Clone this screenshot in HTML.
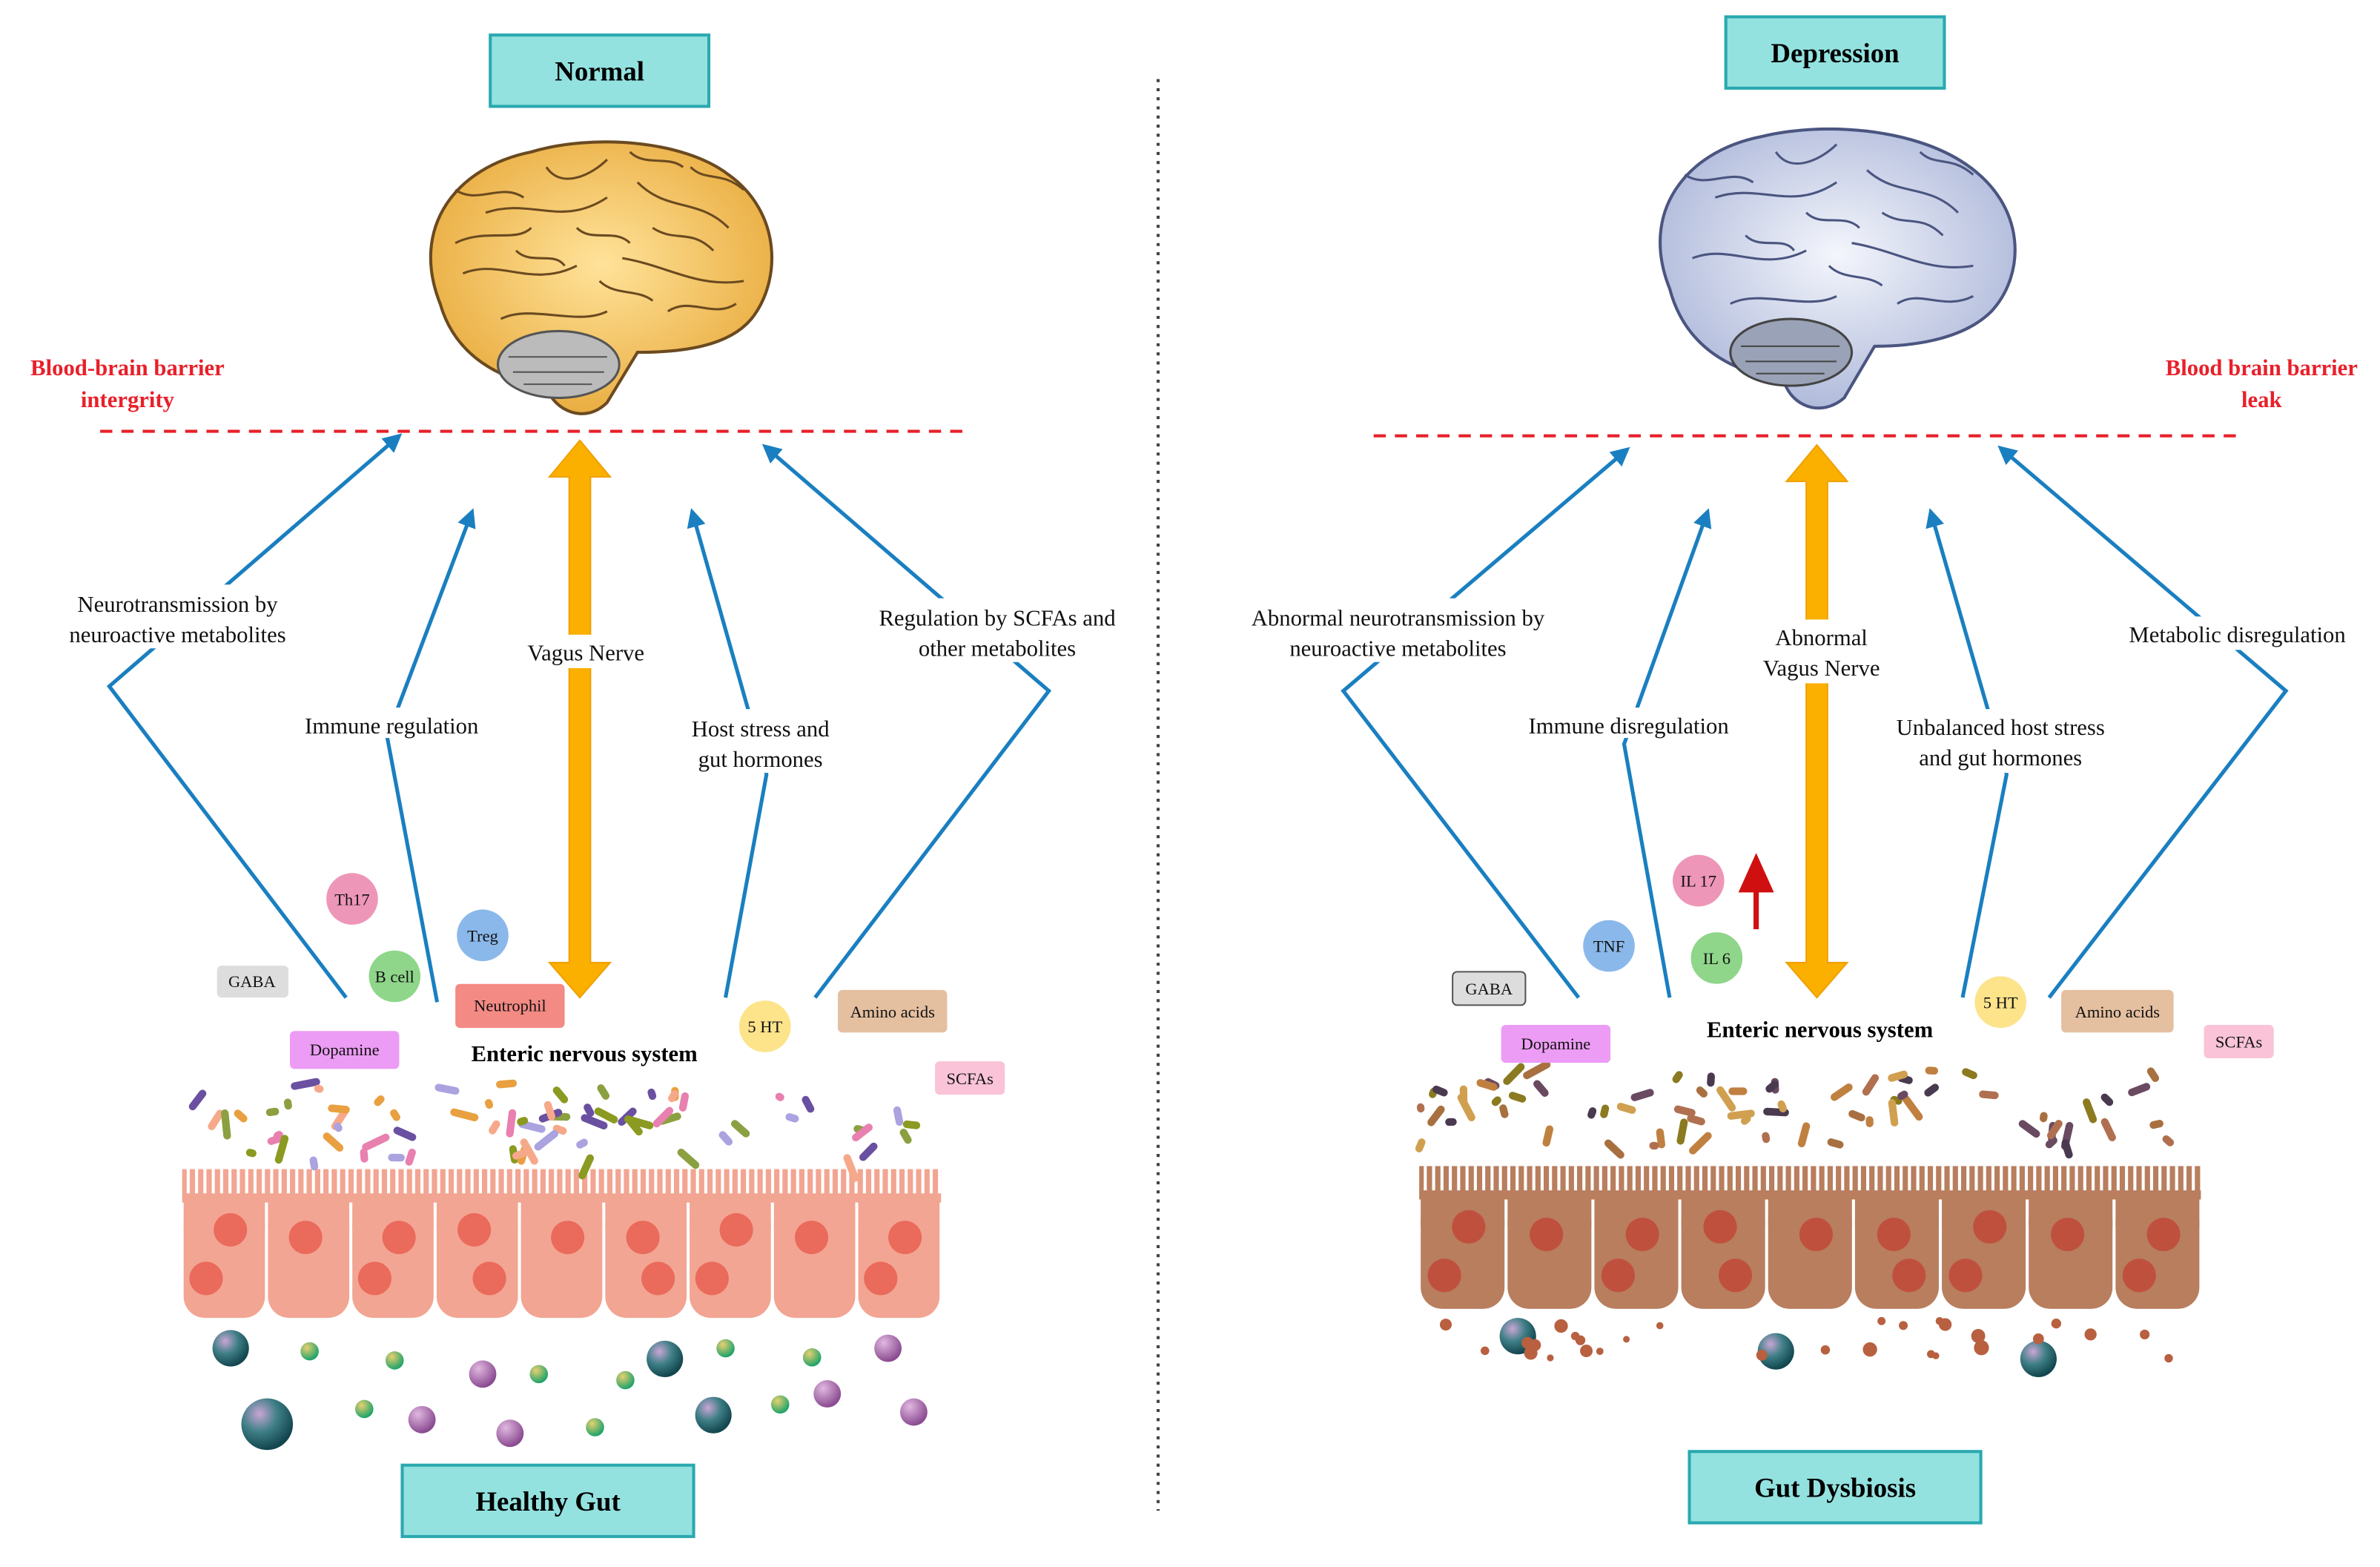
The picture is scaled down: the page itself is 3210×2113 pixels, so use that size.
<!DOCTYPE html>
<html><head><meta charset="utf-8"><style>
html,body{margin:0;padding:0;background:#fff;}
svg{display:block;}
text{font-family:"Liberation Serif",serif;}
</style></head><body>
<svg id="s" width="3210" height="2113" viewBox="0 0 1568 1032" xmlns="http://www.w3.org/2000/svg">
<defs>
<marker id="ab" viewBox="0 0 10 10" refX="8" refY="5" markerWidth="5" markerHeight="5" orient="auto"><path d="M0,0L10,5L0,10z" fill="#1a7fc0"/></marker>
<radialGradient id="bt" cx="35%" cy="30%" r="70%"><stop offset="0" stop-color="#c9a6d6"/><stop offset=".5" stop-color="#3f7f86"/><stop offset="1" stop-color="#13464f"/></radialGradient>
<radialGradient id="bg" cx="35%" cy="30%" r="70%"><stop offset="0" stop-color="#e8d070"/><stop offset="1" stop-color="#1ea36a"/></radialGradient>
<radialGradient id="bp" cx="35%" cy="30%" r="70%"><stop offset="0" stop-color="#e0b8e0"/><stop offset="1" stop-color="#8a4a90"/></radialGradient>
<radialGradient id="yb" cx="50%" cy="45%" r="60%"><stop offset="0" stop-color="#ffe39a"/><stop offset="1" stop-color="#e8a93a"/></radialGradient>
<radialGradient id="wb" cx="50%" cy="45%" r="60%"><stop offset="0" stop-color="#f4f6fc"/><stop offset="1" stop-color="#aab5d8"/></radialGradient>
</defs>
<g font-weight="bold" font-size="18" text-anchor="middle">
<rect x="323" y="23" width="144" height="47" fill="#93e2e0" stroke="#2aa8b0" stroke-width="2"/><text x="395" y="53">Normal</text>
<rect x="1137" y="11" width="144" height="47" fill="#93e2e0" stroke="#2aa8b0" stroke-width="2"/><text x="1209" y="41">Depression</text>
<rect x="265" y="965" width="192" height="47" fill="#93e2e0" stroke="#2aa8b0" stroke-width="2"/><text x="361" y="995">Healthy Gut</text>
<rect x="1113" y="956" width="192" height="47" fill="#93e2e0" stroke="#2aa8b0" stroke-width="2"/><text x="1209" y="986">Gut Dysbiosis</text>
</g>
<line x1="763" y1="52" x2="763" y2="995" stroke="#444" stroke-width="2" stroke-dasharray="2,4"/>
<g>
<path d="M290,200 C270,150 300,110 350,100 C390,88 450,92 480,115 C515,140 515,185 495,210 C480,228 450,232 420,232 L400,265 C385,280 365,270 360,255 C330,250 300,235 290,200z" fill="url(#yb)" stroke="#6b4a20" stroke-width="2"/>
<path d="M305,180 C330,170 350,190 380,175 M320,140 C350,130 370,150 400,130 M420,120 C440,140 460,130 480,150 M410,170 C440,175 460,190 490,185 M330,210 C350,200 380,215 400,205 M300,160 C320,150 340,160 350,150 M440,205 C455,195 470,210 485,200 M360,110 C370,125 390,115 400,105 M300,125 C315,135 330,120 345,130 M380,150 C390,160 405,150 415,160 M430,150 C445,160 455,150 470,165 M455,110 C465,120 475,112 490,125 M395,185 C405,195 420,190 430,198 M340,165 C350,175 365,165 372,175 M415,100 C425,110 440,102 450,110" fill="none" stroke="#6b4a20" stroke-width="1.5"/>
<ellipse cx="368" cy="240" rx="40" ry="22" fill="#bbb" stroke="#555" stroke-width="1.5"/>
<path d="M335,235 L400,235 M338,245 L398,245 M345,253 L390,253" stroke="#555"/>
</g>
<g>
<path d="M1100,190 C1080,140 1110,100 1160,90 C1200,80 1260,84 1295,108 C1335,135 1335,180 1312,205 C1295,222 1265,228 1235,228 L1215,262 C1200,275 1180,268 1175,250 C1140,245 1110,228 1100,190z" fill="url(#wb)" stroke="#4a5580" stroke-width="2"/>
<path d="M1115,170 C1140,160 1160,180 1190,165 M1130,130 C1160,120 1180,140 1210,120 M1230,112 C1250,130 1270,120 1290,140 M1220,160 C1250,165 1270,180 1300,175 M1140,200 C1160,190 1190,205 1210,195 M1250,200 C1265,190 1280,205 1300,195 M1170,100 C1180,115 1200,105 1210,95 M1110,115 C1125,125 1140,110 1155,120 M1190,140 C1200,150 1215,140 1225,150 M1240,140 C1255,150 1265,140 1280,155 M1265,100 C1275,110 1285,102 1300,115 M1205,175 C1215,185 1230,180 1240,188 M1150,155 C1160,165 1175,155 1182,165" fill="none" stroke="#4a5580" stroke-width="1.5"/>
<ellipse cx="1180" cy="232" rx="40" ry="22" fill="#9aa2b8" stroke="#444" stroke-width="1.5"/>
<path d="M1147,228 L1212,228 M1150,238 L1210,238 M1157,246 L1202,246" stroke="#444"/>
</g>
<line x1="66" y1="284" x2="635" y2="284" stroke="#e8202a" stroke-width="2" stroke-dasharray="8,6"/>
<line x1="905" y1="287" x2="1475" y2="287" stroke="#e8202a" stroke-width="2" stroke-dasharray="8,6"/>
<g fill="#e8202a" font-weight="bold" font-size="15" text-anchor="middle">
<text x="84" y="247">Blood-brain barrier</text><text x="84" y="268">intergrity</text>
<text x="1490" y="247">Blood brain barrier</text><text x="1490" y="268">leak</text>
</g>
<g fill="#fbb000" stroke="#f0a000">
<path d="M382,290 L402,314 L389,314 L389,634 L402,634 L382,657 L362,634 L375,634 L375,314 L362,314z"/>
<path d="M1197,293 L1217,317 L1204,317 L1204,634 L1217,634 L1197,657 L1177,634 L1190,634 L1190,317 L1177,317z"/>
</g>
<g fill="none" stroke="#1a7fc0" stroke-width="2.5" marker-end="url(#ab)">
<polyline points="228,657 72,452 263,287"/>
<polyline points="288,660 255,485 311,337"/>
<polyline points="478,657 505,510 456,337"/>
<polyline points="537,657 691,455 504,294"/>
<polyline points="1040,657 885,455 1072,296"/>
<polyline points="1100,657 1070,490 1125,337"/>
<polyline points="1293,657 1322,510 1272,337"/>
<polyline points="1350,657 1506,455 1318,295"/>
</g>
<g font-size="15" text-anchor="middle" fill="#111">
<g fill="#fff"><rect x="30" y="385" width="175" height="42"/><rect x="190" y="466" width="136" height="20"/><rect x="340" y="418" width="92" height="22"/><rect x="445" y="467" width="112" height="42"/><rect x="570" y="394" width="176" height="42"/>
<rect x="813" y="394" width="218" height="42"/><rect x="998" y="466" width="150" height="20"/><rect x="1160" y="408" width="80" height="42"/><rect x="1238" y="467" width="160" height="42"/><rect x="1392" y="406" width="164" height="22"/></g>
<text x="117" y="403">Neurotransmission by</text><text x="117" y="423">neuroactive metabolites</text>
<text x="258" y="483">Immune regulation</text>
<text x="386" y="435">Vagus Nerve</text>
<text x="501" y="485">Host stress and</text><text x="501" y="505">gut hormones</text>
<text x="657" y="412">Regulation by SCFAs and</text><text x="657" y="432">other metabolites</text>
<text x="921" y="412">Abnormal neurotransmission by</text><text x="921" y="432">neuroactive metabolites</text>
<text x="1073" y="483">Immune disregulation</text>
<text x="1200" y="425">Abnormal</text><text x="1200" y="445">Vagus Nerve</text>
<text x="1318" y="484">Unbalanced host stress</text><text x="1318" y="504">and gut hormones</text>
<text x="1474" y="423">Metabolic disregulation</text>
</g>
<g id="guts"></g>
<g font-size="11" text-anchor="middle" fill="#111">
<rect x="143" y="636" width="47" height="21" rx="3" fill="#ddd"/><text x="166" y="650">GABA</text>
<rect x="191" y="679" width="72" height="25" rx="3" fill="#ec9cf4"/><text x="227" y="695">Dopamine</text>
<circle cx="232" cy="592" r="17" fill="#ee96b8"/><text x="232" y="596">Th17</text>
<circle cx="260" cy="643" r="17" fill="#8fd68a"/><text x="260" y="647">B cell</text>
<circle cx="318" cy="616" r="17" fill="#8ab8ea"/><text x="318" y="620">Treg</text>
<rect x="300" y="648" width="72" height="29" rx="3" fill="#f48a84"/><text x="336" y="666">Neutrophil</text>
<circle cx="504" cy="676" r="17" fill="#fde38a"/><text x="504" y="680">5 HT</text>
<rect x="552" y="652" width="72" height="28" rx="3" fill="#e4bfa0"/><text x="588" y="670">Amino acids</text>
<rect x="616" y="699" width="46" height="22" rx="3" fill="#fac3d8"/><text x="639" y="714">SCFAs</text>
<rect x="957" y="640" width="48" height="22" rx="3" fill="#ddd" stroke="#555"/><text x="981" y="655">GABA</text>
<rect x="989" y="675" width="72" height="25" rx="3" fill="#ec9cf4"/><text x="1025" y="691">Dopamine</text>
<circle cx="1060" cy="623" r="17" fill="#8ab8ea"/><text x="1060" y="627">TNF</text>
<circle cx="1119" cy="580" r="17" fill="#ee96b8"/><text x="1119" y="584">IL 17</text>
<circle cx="1131" cy="631" r="17" fill="#8fd68a"/><text x="1131" y="635">IL 6</text>
<circle cx="1318" cy="660" r="17" fill="#fde38a"/><text x="1318" y="664">5 HT</text>
<rect x="1358" y="652" width="74" height="28" rx="3" fill="#e4bfa0"/><text x="1395" y="670">Amino acids</text>
<rect x="1452" y="675" width="46" height="22" rx="3" fill="#fac3d8"/><text x="1475" y="690">SCFAs</text>
</g>
<path d="M1157,612 L1157,584 M1148,586 L1157,566 L1166,586z" stroke="#d01010" stroke-width="3.5" fill="#d01010"/>
<g font-weight="bold" font-size="15" text-anchor="middle">
<text x="385" y="699">Enteric nervous system</text>
<text x="1199" y="683">Enteric nervous system</text>
</g>
</svg>
<script>
var g=document.getElementById('guts'),h='';
function gut(x0,x1,y0,y1,fill,nuc){
 var n=9,w=(x1-x0)/n;
 h+='<rect x="'+x0+'" y="'+y0+'" width="'+(x1-x0)+'" height="22" fill="'+fill+'"/>';
 for(var x=x0+3;x<x1;x+=5.5)h+='<rect x="'+x+'" y="'+y0+'" width="2" height="16" fill="#fff"/>';
 for(var i=0;i<n;i++){var cx=x0+i*w;
  h+='<rect x="'+(cx+1)+'" y="'+(y0+22)+'" width="'+(w-2)+'" height="'+(y1-y0-22)+'" rx="14" fill="'+fill+'"/>';
  h+='<rect x="'+(cx+1)+'" y="'+(y0+20)+'" width="'+(w-2)+'" height="20" fill="'+fill+'"/>';
  h+='<circle cx="'+(cx+w/2+(i%2?-2:4))+'" cy="'+(y0+(i%3==0?40:45))+'" r="11" fill="'+nuc+'"/>';
  if(i%3!=1)h+='<circle cx="'+(cx+w/2-12+(i%2)*20)+'" cy="'+(y0+72)+'" r="11" fill="'+nuc+'"/>';
 }}
gut(120,620,770,868,'#f2a592','#ea6a5c');
gut(935,1450,768,862,'#b87e5e','#c0503e');
var cols=['#f6a98a','#aaa3e0','#8b9a20','#e8a040','#e880b0','#6a50a0','#8ba040'];
var s=7;function r(){s=(s*9301+49297)%233280;return s/233280;}
for(var i=0;i<70;i++){var x=125+r()*490,y=712+r()*50,c=cols[i%7],a=r()*180;
 h+='<rect x="'+x+'" y="'+y+'" width="'+(6+r()*14)+'" height="5" rx="2.5" fill="'+c+'" transform="rotate('+a+' '+x+' '+y+')"/>';}
var cols2=['#a87040','#6a4a60','#8b7a20','#c08040','#b07050','#4a3a50','#d0a050'];
for(var i=0;i<70;i++){var x=938+r()*505,y=702+r()*50,c=cols2[i%7],a=r()*180;
 h+='<rect x="'+x+'" y="'+y+'" width="'+(6+r()*14)+'" height="5" rx="2.5" fill="'+c+'" transform="rotate('+a+' '+x+' '+y+')"/>';}
var balls=[[152,888,12,'bt'],[204,890,6,'bg'],[260,896,6,'bg'],[318,905,9,'bp'],[355,905,6,'bg'],[412,909,6,'bg'],[438,895,12,'bt'],[478,888,6,'bg'],[535,894,6,'bg'],[585,888,9,'bp'],[176,938,17,'bt'],[240,928,6,'bg'],[278,935,9,'bp'],[336,944,9,'bp'],[392,940,6,'bg'],[470,932,12,'bt'],[514,925,6,'bg'],[545,918,9,'bp'],[602,930,9,'bp'],
[1000,880,12,'bt'],[1170,890,12,'bt'],[1343,895,12,'bt']];
balls.forEach(function(b){h+='<circle cx="'+b[0]+'" cy="'+b[1]+'" r="'+b[2]+'" fill="url(#'+b[3]+')"/>';});
for(var i=0;i<30;i++){h+='<circle cx="'+(950+r()*490)+'" cy="'+(870+r()*25)+'" r="'+(2+r()*3)+'" fill="#b86040"/>';}
g.innerHTML=h;
</script>
</body></html>
